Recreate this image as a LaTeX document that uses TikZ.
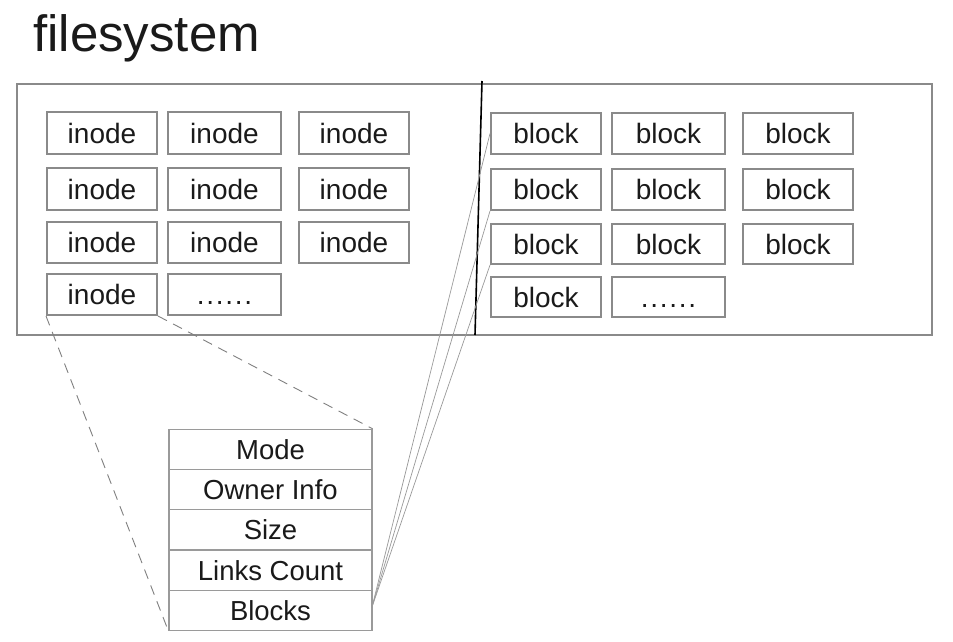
\documentclass[tikz,border=0pt]{standalone}
\usepackage{fontspec}
\setmainfont{Liberation Sans}
\definecolor{boxgray}{HTML}{8A8A8A}
\definecolor{tblgray}{HTML}{9A9A9A}
\definecolor{txt}{HTML}{1A1A1A}
\begin{document}
\begin{tikzpicture}[x=1pt,y=-1pt,
  cell/.style={draw=boxgray,line width=2pt,inner sep=0pt,text=txt,text height=20pt,text depth=0pt,font=\fontsize{28}{28}\selectfont},
  trow/.style={draw=tblgray,line width=1.2pt,inner sep=0pt,minimum width=203pt,minimum height=40.2pt,text height=20pt,text depth=0pt,text=txt,font=\fontsize{27.5}{28}\selectfont},
  zoomline/.style={draw=gray,line width=0.9pt,dash pattern=on 10pt off 7pt},
  ptr/.style={draw=gray!80,line width=0.7pt}]
\fill[white] (0,0) rectangle (953,642);
\useasboundingbox (0,0) rectangle (953,642);
\node[anchor=base west,inner sep=0pt,text=txt,font=\fontsize{51}{51}\selectfont] (title) at (33,52) {filesystem};
% outer box
\node[draw=boxgray,line width=2pt,minimum width=915pt,minimum height=251pt,inner sep=0pt] (fs) at (474.5,209.5) {};
\coordinate (dtop) at (482,81);
\coordinate (dbot) at (475,335);
\draw[black,line width=1.6pt] (dtop) -- (dbot);
% inodes
\foreach \n/\xa/\xb/\ya/\yb/\t in {
  i1/47/157/112/154/inode, i2/168/281/112/154/inode, i3/299/409/112/154/inode,
  i4/47/157/168/210/inode, i5/168/281/168/210/inode, i6/299/409/168/210/inode,
  i7/47/157/222/263/inode, i8/168/281/222/263/inode, i9/299/409/222/263/inode,
  i10/47/157/274/315/inode, i11/168/281/274/315/{\addfontfeature{LetterSpace=6}......}}{
  \node[cell,minimum width=\xb-\xa,minimum height=\yb-\ya] (\n) at ({(\xa+\xb)/2},{(\ya+\yb)/2}) {\t};
}
% blocks
\foreach \n/\xa/\xb/\ya/\yb/\t in {
  b1/491/601/113/154/block, b2/612/725/113/154/block, b3/743/853/113/154/block,
  b4/491/601/169/210/block, b5/612/725/169/210/block, b6/743/853/169/210/block,
  b7/491/601/224/264/block, b8/612/725/224/264/block, b9/743/853/224/264/block,
  b10/491/601/277/317/block, b11/612/725/277/317/{\addfontfeature{LetterSpace=6}......}}{
  \node[cell,minimum width=\xb-\xa,minimum height=\yb-\ya] (\n) at ({(\xa+\xb)/2},{(\ya+\yb)/2}) {\t};
}
% inode table
\node[trow] (mode) at (270.5,449.5) {Mode};
\node[trow] (owner) at (270.5,489.7) {Owner Info};
\node[trow] (size) at (270.5,529.9) {Size};
\node[trow] (links) at (270.5,570.1) {Links Count};
\node[trow] (blk) at (270.5,610.3) {Blocks};
% zoom lines
\draw[zoomline] (i10.south west) -- (blk.south west);
\draw[zoomline] (i10.south east) -- (mode.north east);
% block pointers
\coordinate (bp) at (372,607);
\draw[ptr] (bp) -- (b1.west);
\draw[ptr] (bp) -- (b4.south west);
\draw[ptr] (bp) -- (b7.south west);
\end{tikzpicture}
\end{document}
